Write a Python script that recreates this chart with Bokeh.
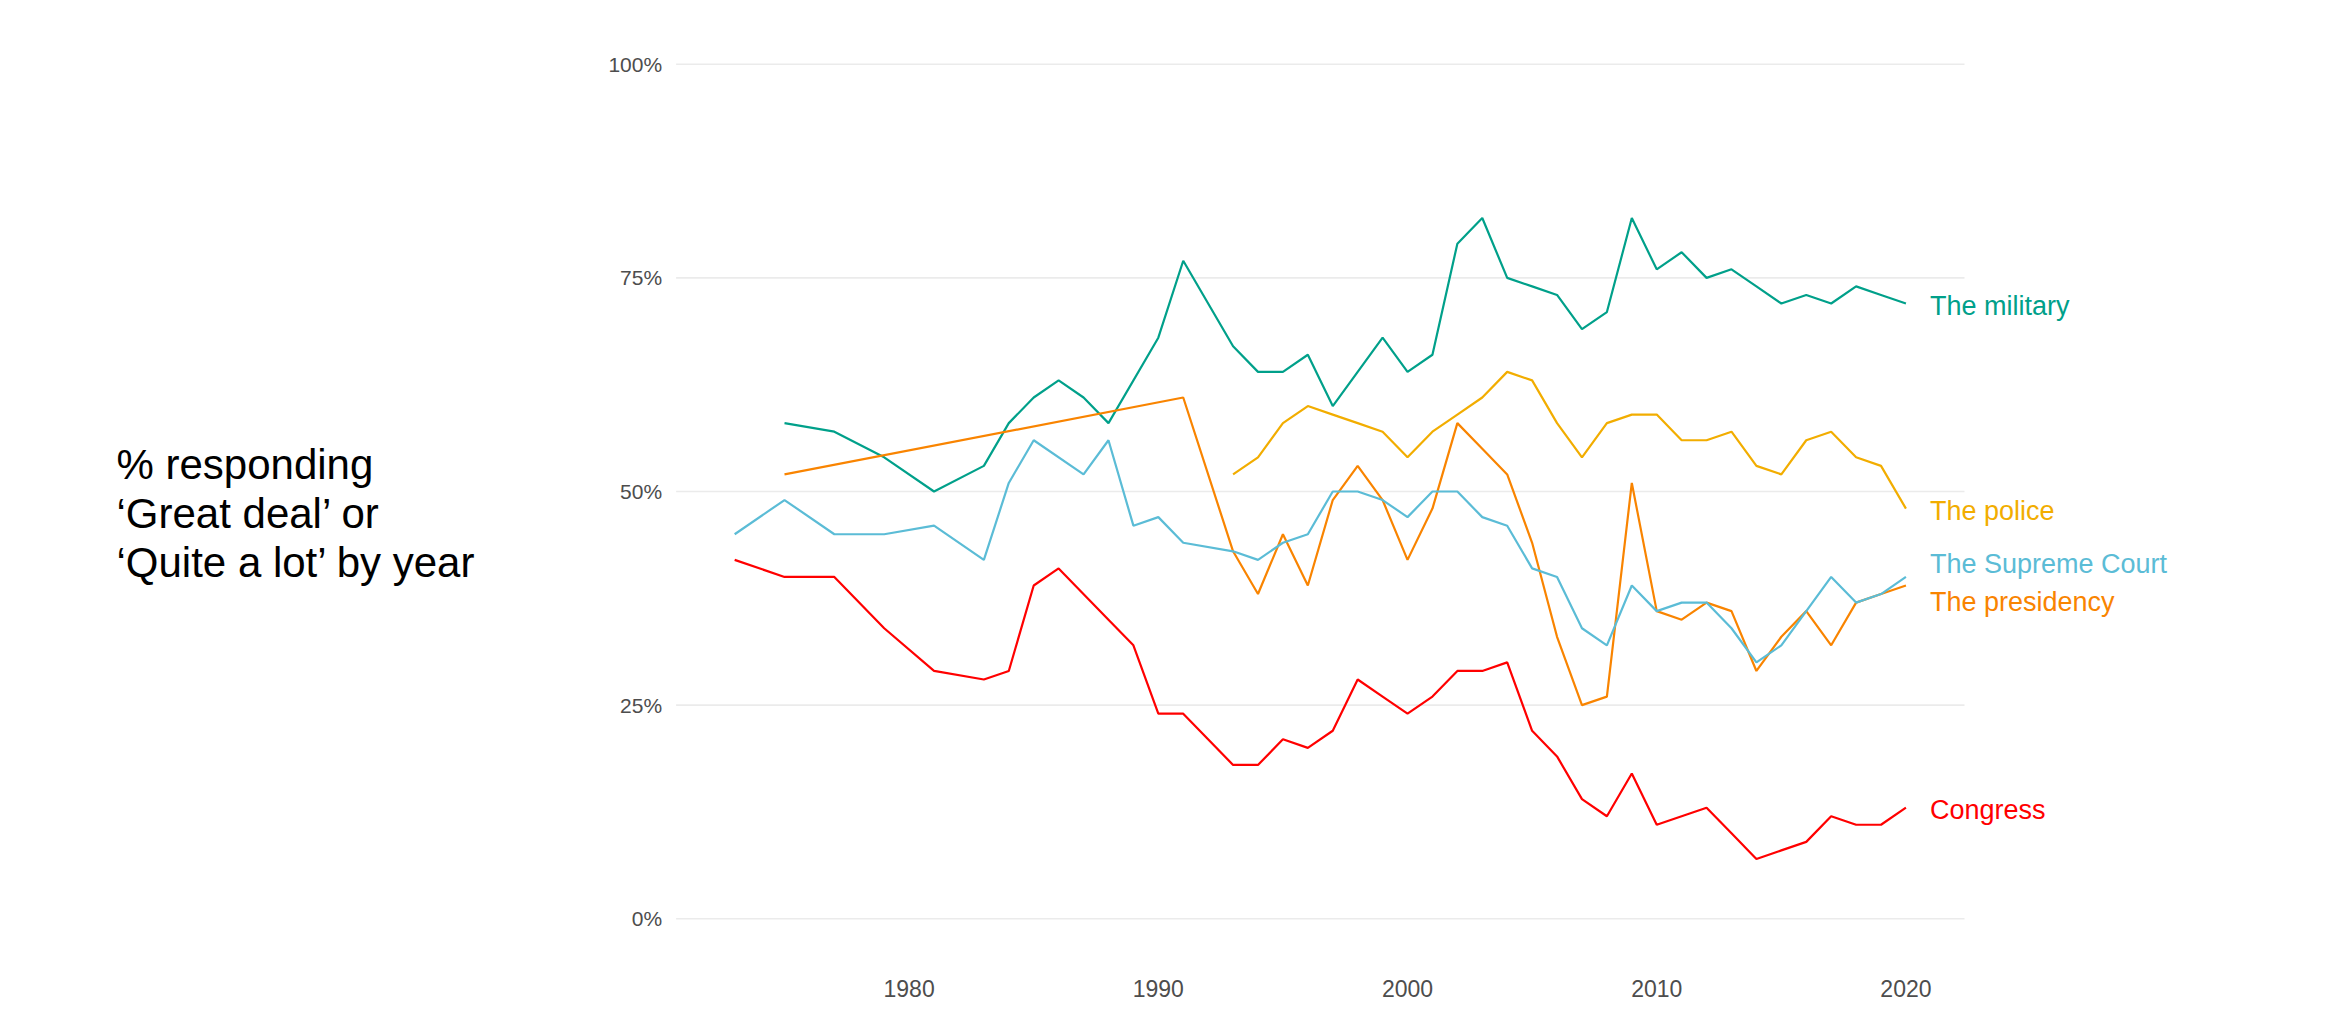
from bokeh.plotting import figure
from bokeh.models import Range1d, FixedTicker, LabelSet, ColumnDataSource, Label
from bokeh.core.properties import value
from bokeh.embed import file_html
from bokeh.resources import INLINE

# ---------------- data ----------------
congress_years = [1973, 1975, 1977, 1979, 1981, 1983, 1984, 1985, 1986, 1988, 1989, 1990, 1991,
                  1993, 1994, 1995, 1996, 1997, 1998, 1999, 2000, 2001, 2002,
                  2003, 2004, 2005, 2006, 2007, 2008, 2009, 2010, 2011, 2012,
                  2013, 2014, 2015, 2016, 2017, 2018, 2019, 2020]
congress = [42, 40, 40, 34, 29, 28, 29, 39, 41, 35, 32, 24, 24,
            18, 18, 21, 20, 22, 28, 26, 24, 26, 29,
            29, 30, 22, 19, 14, 12, 17, 11, 12, 13,
            10, 7, 8, 9, 12, 11, 11, 13]

military_years = [1975, 1977, 1979, 1981, 1983, 1984, 1985, 1986, 1987, 1988, 1990, 1991,
                  1993, 1994, 1995, 1996, 1997, 1998, 1999, 2000, 2001, 2002,
                  2003, 2004, 2005, 2006, 2007, 2008, 2009, 2010, 2011, 2012,
                  2013, 2014, 2015, 2016, 2017, 2018, 2019, 2020]
military = [58, 57, 54, 50, 53, 58, 61, 63, 61, 58, 68, 77,
            67, 64, 64, 66, 60, 64, 68, 64, 66, 79,
            82, 75, 74, 73, 69, 71, 82, 76, 78, 75,
            76, 74, 72, 73, 72, 74, 73, 72]

police_years = [1993, 1994, 1995, 1996, 1997, 1998, 1999, 2000, 2001, 2002,
                2003, 2004, 2005, 2006, 2007, 2008, 2009, 2010, 2011, 2012,
                2013, 2014, 2015, 2016, 2017, 2018, 2019, 2020]
police = [52, 54, 58, 60, 59, 58, 57, 54, 57, 59,
          61, 64, 63, 58, 54, 58, 59, 59, 56, 56,
          57, 53, 52, 56, 57, 54, 53, 48]

presidency_years = [1975, 1991,
                    1993, 1994, 1995, 1996, 1997, 1998, 1999, 2000, 2001, 2002,
                    2003, 2004, 2005, 2006, 2007, 2008, 2009, 2010, 2011, 2012,
                    2013, 2014, 2015, 2016, 2017, 2018, 2019, 2020]
presidency = [52, 61,
              43, 38, 45, 39, 49, 53, 49, 42, 48, 58,
              55, 52, 44, 33, 25, 26, 51, 36, 35, 37,
              36, 29, 33, 36, 32, 37, 38, 39]

court_years = [1973, 1975, 1977, 1979, 1981, 1983, 1984, 1985, 1987, 1988, 1989, 1990, 1991,
               1993, 1994, 1995, 1996, 1997, 1998, 1999, 2000, 2001, 2002,
               2003, 2004, 2005, 2006, 2007, 2008, 2009, 2010, 2011, 2012,
               2013, 2014, 2015, 2016, 2017, 2018, 2019, 2020]
court = [45, 49, 45, 45, 46, 42, 51, 56, 52, 56, 46, 47, 44,
         43, 42, 44, 45, 50, 50, 49, 47, 50, 50,
         47, 46, 41, 40, 34, 32, 39, 36, 37, 37,
         34, 30, 32, 36, 40, 37, 38, 40]

series_names = ["Congress", "The military", "The police", "The presidency", "The Supreme Court"]
series_colors = ["#FF0000", "#00A08A", "#F2AD00", "#F98400", "#5BBCD6"]

x_ticks = [1980, 1990, 2000, 2010, 2020]
x_tick_labels = ["1980", "1990", "2000", "2010", "2020"]
y_ticks = [0, 25, 50, 75, 100]
y_tick_labels = ["0%", "25%", "50%", "75%", "100%"]

title_lines = ["% responding", "\u2018Great deal\u2019 or", "\u2018Quite a lot\u2019 by year"]

# ---------------- layout ----------------
W, H = 2312, 1007
BT, BB = 21, 46
FONT = "Liberation Sans"

# panel (data) extent and pixel geometry of the reference
PX0, PX1 = 1970.65, 2022.35        # visible panel in years
PANEL_LEFT_PX, PANEL_RIGHT_PX = 675.6, 1964.0
px_per_year = (PANEL_RIGHT_PX - PANEL_LEFT_PX) / (PX1 - PX0)
X0 = PX0 - PANEL_LEFT_PX / px_per_year          # frame spans the whole width
X1 = X0 + W / px_per_year
Y0, Y1 = -5, 105

p = figure(width=W, height=H, output_backend="svg", toolbar_location=None,
           x_range=Range1d(X0, X1), y_range=Range1d(Y0, Y1),
           min_border_left=0, min_border_right=0, min_border_top=BT, min_border_bottom=BB,
           background_fill_color="white", border_fill_color="white")
p.outline_line_color = None

p.xaxis.ticker = FixedTicker(ticks=x_ticks)
p.xaxis.major_label_overrides = dict(zip(x_ticks, x_tick_labels))
p.yaxis.ticker = FixedTicker(ticks=y_ticks)
p.yaxis.major_label_overrides = dict(zip(y_ticks, y_tick_labels))
p.yaxis.fixed_location = PX0
for ax in (p.xaxis, p.yaxis):
    ax.axis_line_color = None
    ax.major_tick_line_color = None
    ax.minor_tick_line_color = None
    ax.major_label_text_font = FONT
    ax.major_label_text_color = "#4D4D4D"
p.xaxis.major_label_text_font_size = "23px"
p.yaxis.major_label_text_font_size = "21px"
p.xaxis.major_label_standoff = 12
p.yaxis.major_label_standoff = 8

p.xgrid.grid_line_color = None
p.ygrid.grid_line_color = None

# horizontal grid lines across the panel only
p.segment(x0=[PX0] * len(y_ticks), y0=y_ticks, x1=[PX1] * len(y_ticks), y1=y_ticks,
          line_color="#EBEBEB", line_width=1.6)

all_years = [congress_years, military_years, police_years, presidency_years, court_years]
all_vals = [congress, military, police, presidency, court]

for yrs, vals, col in zip(all_years, all_vals, series_colors):
    p.line(yrs, vals, line_color=col, line_width=2.2)

# end labels, pushed apart where they would overlap
last_x = [yrs[-1] for yrs in all_years]
last_y = [float(v[-1]) for v in all_vals]
min_gap = 4.5
order = sorted(range(len(last_y)), key=lambda i: last_y[i])
lab_y = list(last_y)
for a, b in zip(order[:-1], order[1:]):
    if lab_y[b] - lab_y[a] < min_gap:
        mid = (lab_y[a] + lab_y[b]) / 2
        lab_y[a] = mid - min_gap / 2
        lab_y[b] = mid + min_gap / 2

src = ColumnDataSource(dict(x=last_x, y=lab_y, text=series_names, color=series_colors))
p.add_layout(LabelSet(x="x", y="y", text="text", source=src, text_color="color",
                      x_offset=24, y_offset=-2, text_align="left", text_baseline="middle",
                      text_font=value(FONT), text_font_size="27px"))

# side title, placed at pixel positions converted to data space
fh = H - BT - BB
def px_to_x(px):
    return X0 + px / px_per_year
def py_to_y(py):
    return Y1 - (py - BT) / fh * (Y1 - Y0)

title_left = 116
title_base0 = 464
title_step = 49
for i, line in enumerate(title_lines):
    p.add_layout(Label(x=px_to_x(title_left), y=py_to_y(title_base0 + i * title_step),
                       text=line, text_font=FONT, text_font_size="42px",
                       text_color="black", text_align="left", text_baseline="alphabetic"))

open("out.html", "w").write(file_html(p, INLINE))
